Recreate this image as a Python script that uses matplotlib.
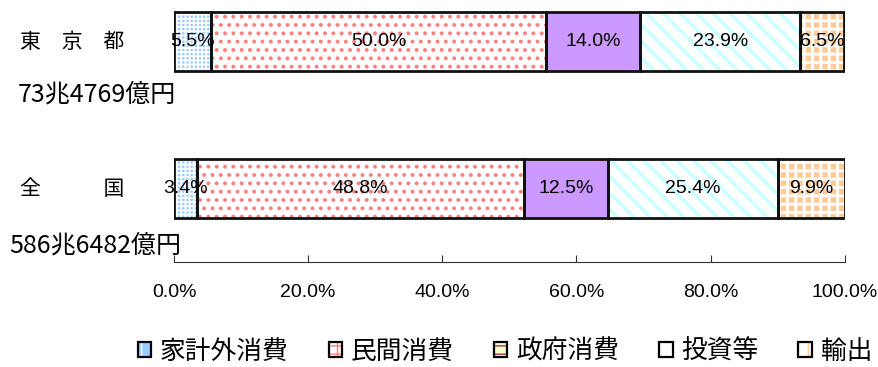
import matplotlib
matplotlib.use("Agg")
import matplotlib.pyplot as plt
import matplotlib.patches as mpatches
from matplotlib.legend_handler import HandlerTuple

# ── data ──────────────────────────────────────────────────────────────────
REGIONS = ["東　京　都", "全　　　国"]
TOTALS = ["73兆4769億円", "586兆6482億円"]
CATEGORIES = ["家計外消費", "民間消費", "政府消費", "投資等", "輸出"]
TOKYO = [5.5, 50.0, 14.0, 23.9, 6.5]
JAPAN = [3.4, 48.8, 12.5, 25.4, 9.9]
XTICKS = [0, 20, 40, 60, 80, 100]

# ── styles ────────────────────────────────────────────────────────────────
FACE = ["#99CCFF", "white", "#CC99FF", "white", "#FFCC99"]
HATCH_COL = ["white", "#FF7F7F", "#CC99FF", "#CCFFFF", "white"]
HATCH = ["++++", "..", "", "\\\\", "++"]
HATCH_LW = [1.3, 1.6, 1.0, 2.6, 2.0]

JP = ["Noto Sans CJK JP", "DejaVu Sans"]
NUM = ["Liberation Sans", "DejaVu Sans"]

fig = plt.figure(figsize=(8.79, 3.67), dpi=100)
ax = fig.add_axes([0.198, 0.286, 0.763, 0.713])

rows = [JAPAN, TOKYO]
ypos = [0, 1]
h = 0.4
for y, vals in zip(ypos, rows):
    left = 0.0
    for k, v in enumerate(vals):
        with plt.rc_context({"hatch.linewidth": HATCH_LW[k]}):
            ax.barh(y, v, left=left, height=h, color=FACE[k], hatch=HATCH[k],
                    edgecolor=HATCH_COL[k], linewidth=0, zorder=2)
        ax.barh(y, v, left=left, height=h, fill=False,
                edgecolor="#111111", linewidth=2.0, zorder=3)
        ax.text(left + v / 2, y, f"{v:.1f}%", ha="center", va="center",
                fontsize=14, family=NUM, zorder=4)
        left += v

ax.set_xlim(0, 100)
ax.set_ylim(-0.5, 1.28)
ax.set_yticks([])
ax.set_xticks(XTICKS)
ax.set_xticklabels([f"{t:.1f}%" for t in XTICKS], fontsize=14, family=NUM)
ax.tick_params(axis="x", direction="in", length=5, pad=16, color="#333333")
for s in ["top", "right", "left"]:
    ax.spines[s].set_visible(False)
ax.spines["bottom"].set_color("#333333")
ax.spines["bottom"].set_linewidth(0.8)

# region labels and totals
fig.text(72 / 879, 1 - 42 / 367, REGIONS[0], ha="center", va="center",
         fontsize=15, family=JP)
fig.text(97 / 879, 1 - 95 / 367, TOTALS[0], ha="center", va="center",
         fontsize=18, family=JP)
fig.text(72 / 879, 1 - 189 / 367, REGIONS[1], ha="center", va="center",
         fontsize=15, family=JP)
fig.text(95 / 879, 1 - 246 / 367, TOTALS[1], ha="center", va="center",
         fontsize=18, family=JP)

# legend (Excel-style small swatches)
LEG_FACE = ["#99CCFF", "white", "#FFFFCC", "white", "white"]
LEG_HCOL = ["white", "#FF8080", "#993366", "#CCFFFF", "#FFCC99"]
LEG_HATCH = ["+", "++", "--", "/", "|"]
handles = []
for k in range(len(CATEGORIES)):
    with plt.rc_context({"hatch.linewidth": 3.0}):
        inner = mpatches.Patch(facecolor=LEG_FACE[k], hatch=LEG_HATCH[k],
                               edgecolor=LEG_HCOL[k], linewidth=0)
    frame = mpatches.Patch(fill=False, edgecolor="black", linewidth=1.6)
    handles.append((inner, frame))
leg = fig.legend(handles=handles, labels=CATEGORIES, loc="center", ncol=5,
                 handler_map={tuple: HandlerTuple(ndivide=1)},
                 bbox_to_anchor=(505 / 879, 1 - 352 / 367), frameon=False,
                 prop={"family": JP, "size": 18.5}, handlelength=0.53,
                 handleheight=0.53, handletextpad=0.34, columnspacing=1.55,
                 borderaxespad=0, borderpad=0)

fig.savefig("out.png", dpi=100)
